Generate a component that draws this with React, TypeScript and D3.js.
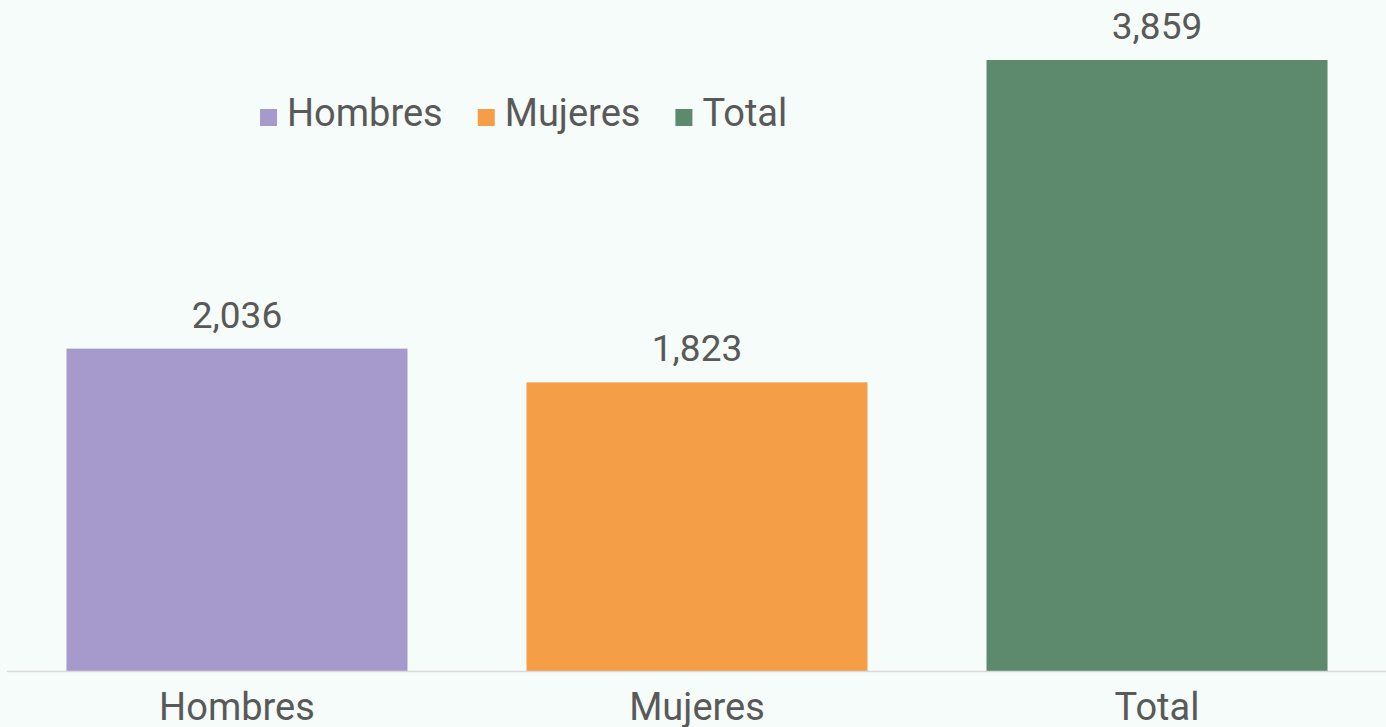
import React, { useEffect, useRef } from "react";
import * as d3 from "d3";

const categories = ["Hombres", "Mujeres", "Total"];
const values = [2036, 1823, 3859];
const colors = ["#A59ACB", "#F59E48", "#5D8A6C"];
const legendLabels = ["Hombres", "Mujeres", "Total"];

const W = 1386;
const H = 727;
const FONT = "Roboto, 'Open Sans', sans-serif";
const TEXT = "#595959";

export default function App() {
  const ref = useRef<SVGSVGElement>(null);

  useEffect(() => {
    const svg = d3.select(ref.current);
    svg.selectAll("*").remove();

    svg.append("rect").attr("width", W).attr("height", H).attr("fill", "#F6FCF9");

    const x = d3.scaleBand<string>().domain(categories).range([7, 1387]).paddingInner(0.2587).paddingOuter(0.1293);
    const y = d3.scaleLinear().domain([0, 3859]).range([671, 60]);

    const g = svg.append("g");
    g.selectAll("rect.bar")
      .data(values)
      .join("rect")
      .attr("class", "bar")
      .attr("x", (_, i) => x(categories[i])!)
      .attr("width", x.bandwidth())
      .attr("y", (d) => y(d))
      .attr("height", (d) => y(0) - y(d))
      .attr("fill", (_, i) => colors[i]);

    // axis line
    svg.append("line")
      .attr("x1", 7).attr("x2", W)
      .attr("y1", y(0) + 0.5).attr("y2", y(0) + 0.5)
      .attr("stroke", "#D9D9D9").attr("stroke-width", 1.5);

    // data labels
    const fmt = d3.format(",");
    g.selectAll("text.val")
      .data(values)
      .join("text")
      .attr("class", "val")
      .attr("x", (_, i) => x(categories[i])! + x.bandwidth() / 2)
      .attr("y", (d) => y(d) - 21)
      .attr("text-anchor", "middle")
      .attr("font-family", FONT)
      .attr("font-size", 37)
      .attr("fill", TEXT)
      .text((d) => fmt(d));

    // category labels
    g.selectAll("text.cat")
      .data(categories)
      .join("text")
      .attr("class", "cat")
      .attr("x", (d) => x(d)! + x.bandwidth() / 2)
      .attr("y", 720)
      .attr("text-anchor", "middle")
      .attr("font-family", FONT)
      .attr("font-size", 38)
      .attr("fill", TEXT)
      .text((d) => d);

    // legend
    const lg = svg.append("g");
    let cx = 260;
    legendLabels.forEach((lab, i) => {
      lg.append("rect").attr("x", cx).attr("y", 109).attr("width", 17).attr("height", 17).attr("fill", colors[i]);
      const t = lg.append("text")
        .attr("x", cx + 27)
        .attr("y", 126)
        .attr("font-family", FONT)
        .attr("font-size", 38)
        .attr("fill", TEXT)
        .text(lab);
      const w = (t.node() as SVGTextElement).getComputedTextLength();
      cx = cx + 27 + w + 35;
    });
  }, []);

  return (
    <svg
      ref={ref}
      width={W}
      height={H}
      style={{ position: "fixed", left: 0, top: 0, display: "block" }}
    />
  );
}
